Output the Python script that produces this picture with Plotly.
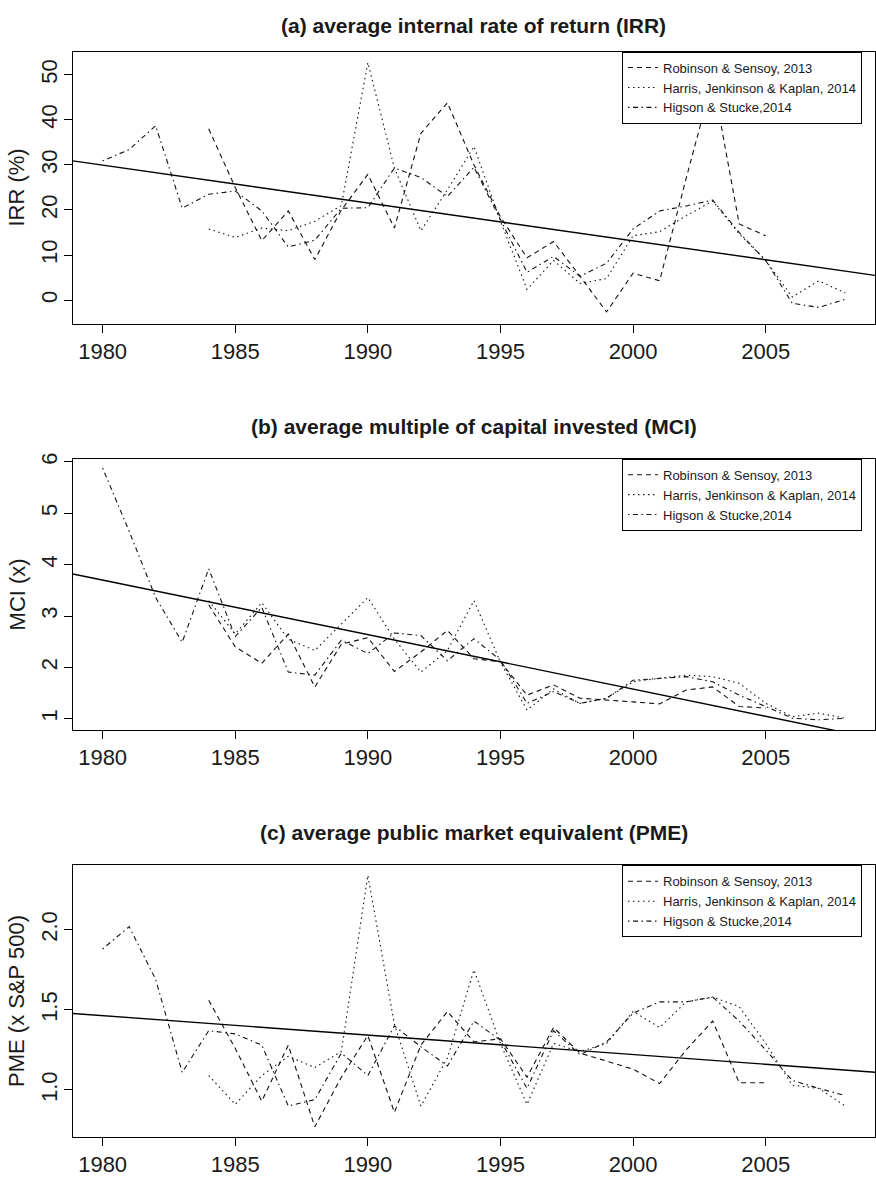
import plotly.graph_objects as go

W, H = 876, 1177

# ---------------- data ----------------
series_names = ["Robinson & Sensoy, 2013",
                "Harris, Jenkinson & Kaplan, 2014",
                "Higson & Stucke,2014"]

years_rs = list(range(1984, 2006))
years_hjk = list(range(1984, 2009))
years_hs = list(range(1980, 2009))

# (a) IRR (%)
irr_rs = [38.0, 25.0, 13.2, 19.8, 9.0, 20.0, 27.9, 16.0, 37.0, 43.8, 30.0,
          18.5, 9.4, 13.0, 5.3, -2.6, 6.0, 4.3, 27.0, 49.0, 16.9, 14.3]
irr_hjk = [15.8, 13.9, 16.0, 15.4, 17.5, 21.0, 52.7, 29.3, 15.4, 24.5, 34.1,
           17.5, 2.4, 8.8, 3.7, 4.8, 14.3, 15.2, 18.7, 22.0, 14.7, 8.8, 0.7, 4.3, 1.6]
irr_hs = [30.9, 33.4, 38.7, 20.4, 23.5, 24.2, 19.8, 11.8, 13.3, 20.4, 20.5,
          29.3, 27.2, 23.0, 29.5, 18.0, 6.2, 9.7, 5.3, 8.2, 15.8, 19.8, 20.9,
          22.2, 15.0, 8.8, -0.7, -1.6, 0.2]

# (b) MCI (x)
mci_rs = [3.22, 2.40, 2.08, 2.65, 1.62, 2.45, 2.58, 1.92, 2.30, 2.72, 2.17,
          2.11, 1.46, 1.66, 1.40, 1.37, 1.33, 1.29, 1.56, 1.62, 1.24, 1.21]
mci_hjk = [3.30, 2.65, 3.26, 2.55, 2.33, 2.85, 3.36, 2.55, 1.91, 2.33, 3.30,
           2.10, 1.17, 1.58, 1.30, 1.40, 1.72, 1.79, 1.85, 1.82, 1.69, 1.30,
           1.04, 1.11, 1.01]
mci_hs = [5.88, 4.65, 3.36, 2.49, 3.92, 2.60, 3.17, 1.91, 1.85, 2.53, 2.27,
          2.67, 2.62, 2.13, 2.56, 2.14, 1.30, 1.53, 1.30, 1.40, 1.75, 1.79,
          1.82, 1.72, 1.46, 1.24, 1.01, 0.98, 1.01]

# (c) PME (x S&P 500)
pme_rs = [1.56, 1.26, 0.93, 1.28, 0.77, 1.08, 1.34, 0.86, 1.28, 1.49, 1.30,
          1.32, 1.08, 1.39, 1.23, 1.18, 1.13, 1.04, 1.25, 1.43, 1.045, 1.045]
pme_hjk = [1.09, 0.91, 1.09, 1.21, 1.14, 1.24, 2.34, 1.41, 0.90, 1.20, 1.75,
           1.29, 0.91, 1.29, 1.24, 1.29, 1.49, 1.39, 1.55, 1.58, 1.52, 1.29,
           1.03, 1.01, 0.90]
pme_hs = [1.88, 2.02, 1.69, 1.11, 1.37, 1.35, 1.28, 0.90, 0.94, 1.23, 1.09,
          1.40, 1.27, 1.15, 1.43, 1.31, 1.01, 1.37, 1.22, 1.30, 1.48, 1.55,
          1.55, 1.58, 1.43, 1.25, 1.06, 1.01, 0.965]

# fitted trend values at the two ends of the sample
trend_years = [1980, 2008]
trend_irr = [29.96, 6.44]
trend_mci = [3.70, 0.73]
trend_pme = [1.464, 1.124]

x_ticks = [1980, 1985, 1990, 1995, 2000, 2005]
irr_ticks = [0, 10, 20, 30, 40, 50]
mci_ticks = [1, 2, 3, 4, 5, 6]
pme_ticks = [1.0, 1.5, 2.0]
pme_ticklabels = ["1.0", "1.5", "2.0"]

titles = ["(a) average internal rate of return (IRR)",
          "(b) average multiple of capital invested (MCI)",
          "(c) average public market equivalent (PME)"]
ylabels = ["IRR (%)", "MCI (x)", "PME (x S&P 500)"]

# ---------------- layout geometry ----------------
FONT = "Liberation Sans, Arial, Helvetica, sans-serif"
INK = "#1a1a1a"
x_left_px = 73
panels_px = [(46, 320.3), (456.7, 730.3), (866.7, 1140.3)]
y_ranges = [[-5.19, 55.13], [0.78, 6.06], [0.709, 2.402]]
title_y_px = [20.0, 424, 834]
x_range = [1980 - 0.04 * 28, 2008 + 0.04 * 28]


def py(px):
    return 1 - px / H


dash_styles = ["5px,4px", "1.5px,3.5px", "1.5px,3.5px,5px,3.5px"]

panel_data = [
    (irr_rs, irr_hjk, irr_hs, trend_irr),
    (mci_rs, mci_hjk, mci_hs, trend_mci),
    (pme_rs, pme_hjk, pme_hs, trend_pme),
]
year_sets = [years_rs, years_hjk, years_hs]

fig = go.Figure()
layout = dict(
    width=W, height=H,
    margin=dict(l=0, r=0, t=0, b=0),
    paper_bgcolor="white", plot_bgcolor="white",
    font=dict(family=FONT, color=INK),
    annotations=[],
)

for i, (rs, hjk, hs, tr) in enumerate(panel_data):
    sfx = "" if i == 0 else str(i + 1)
    xa, ya = "x" + sfx, "y" + sfx
    leg = "legend" + sfx
    for k, (yrs, vals) in enumerate(zip(year_sets, (rs, hjk, hs))):
        fig.add_trace(go.Scatter(
            x=yrs, y=vals, mode="lines", name=series_names[k],
            line=dict(color="#111111", width=1.1, dash=dash_styles[k]),
            xaxis=xa, yaxis=ya, legend=leg, showlegend=True,
        ))
    slope = (tr[1] - tr[0]) / (trend_years[1] - trend_years[0])
    tx = x_range
    ty = [tr[0] + slope * (x - trend_years[0]) for x in tx]
    fig.add_trace(go.Scatter(
        x=tx, y=ty, mode="lines", showlegend=False,
        line=dict(color="black", width=1.4),
        xaxis=xa, yaxis=ya,
    ))

    top, bot = panels_px[i]
    axis_common = dict(showline=True, mirror=True, linecolor="black", linewidth=1,
                       ticks="outside", ticklen=8, tickwidth=1, tickcolor="black",
                       showgrid=False, zeroline=False,
                       tickfont=dict(family=FONT, size=22, color=INK))
    layout["xaxis" + sfx] = dict(axis_common, domain=[x_left_px / W, 1],
                                 anchor=ya, range=x_range,
                                 tickmode="array", tickvals=x_ticks)
    yt = [irr_ticks, mci_ticks, pme_ticks][i]
    ytl = [[str(v) for v in irr_ticks], [str(v) for v in mci_ticks], pme_ticklabels][i]
    layout["yaxis" + sfx] = dict(axis_common, domain=[py(bot), py(top)],
                                 anchor=xa, range=y_ranges[i],
                                 tickmode="array", tickvals=yt, ticktext=ytl,
                                 tickangle=-90, ticklabelstandoff=-2)
    layout[leg] = dict(x=622.7 / W, y=py(top), xanchor="left", yanchor="top",
                       bgcolor="white", bordercolor="black", borderwidth=1,
                       font=dict(family=FONT, size=13, color=INK),
                       traceorder="normal", itemwidth=30)
    layout["annotations"].append(dict(
        text="<b>" + titles[i] + "</b>", xref="paper", yref="paper",
        x=(x_left_px + W) / 2 / W, y=py(title_y_px[i]),
        xanchor="center", yanchor="middle", showarrow=False,
        font=dict(family=FONT, size=21, color=INK)))
    layout["annotations"].append(dict(
        text=ylabels[i], xref="paper", yref="paper",
        x=17 / W, y=py((top + bot) / 2), textangle=-90,
        xanchor="center", yanchor="middle", showarrow=False,
        font=dict(family=FONT, size=22, color=INK)))

fig.update_layout(**layout)
fig.write_html("out.html")
